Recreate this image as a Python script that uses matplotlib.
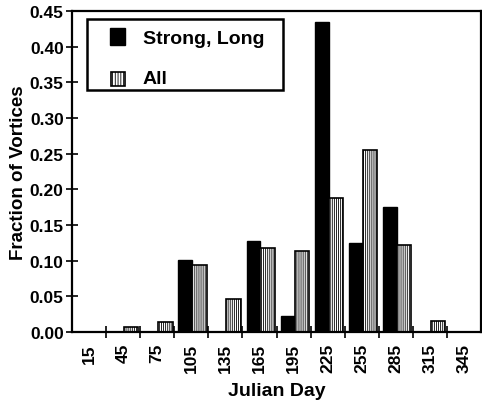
import matplotlib
matplotlib.use("Agg")
import matplotlib.pyplot as plt
import numpy as np
from matplotlib.patches import Rectangle

plt.rcParams['font.family'] = ['Liberation Sans', 'DejaVu Sans']
plt.rcParams['font.weight'] = 'bold'
plt.rcParams['hatch.linewidth'] = 0.6

days = [15, 45, 75, 105, 135, 165, 195, 225, 255, 285, 315, 345]
strong_long = [0, 0, 0, 0.101, 0, 0.127, 0.023, 0.435, 0.125, 0.175, 0, 0]
all_vortices = [0, 0.007, 0.014, 0.094, 0.046, 0.118, 0.114, 0.188, 0.255, 0.122, 0.016, 0]
yticks = [0.00, 0.05, 0.10, 0.15, 0.20, 0.25, 0.30, 0.35, 0.40, 0.45]
series_names = ["Strong, Long", "All"]

HATCH = '||||||||'

fig = plt.figure(figsize=(4.82, 4.02), dpi=100)
AX_W, AX_H = 409, 321
ax = fig.add_axes([72/482, 1 - 333/402, AX_W/482, AX_H/402])

x = np.arange(len(days))
for xi, v in zip(x, strong_long):
    if v > 0:
        ax.bar(xi - 0.38, v, width=0.41, align='edge', color='black',
               edgecolor='black', linewidth=1.0)
for xi, v in zip(x, all_vortices):
    if v > 0:
        ax.bar(xi + 0.03, v, width=0.42, align='edge', color='white',
               edgecolor='black', hatch=HATCH, linewidth=1.2)

ax.set_xlim(-0.5, len(days) - 0.5)
ax.set_ylim(0, 0.45)
ax.set_yticks(yticks)
ax.set_yticklabels([f"{t:.2f}" for t in yticks], fontsize=12.5, fontweight='bold')
ax.set_xticks(x)
ax.set_xticklabels([str(d) for d in days], rotation=90, fontsize=12.5, fontweight='bold')
ax.set_xticks(np.arange(0.5, len(days) - 0.5, 1.0), minor=True)
ax.tick_params(axis='x', which='major', length=0, pad=8)
ax.tick_params(axis='x', which='minor', direction='inout', length=8, width=1.2)
ax.tick_params(axis='y', which='major', direction='inout', length=8, width=1.2, pad=2)

for s in ax.spines.values():
    s.set_linewidth(1.6)

ax.set_xlabel("Julian Day", fontsize=14, fontweight='bold', labelpad=7)
ax.set_ylabel("Fraction of Vortices", fontsize=13.5, fontweight='bold', labelpad=2)

# Manual legend box (positions in axes pixel units -> fractions)
def fx(px):
    return (px - 72) / AX_W

def fy(py):
    return (333 - py) / AX_H

T = ax.transAxes
ax.add_patch(Rectangle((fx(87), fy(91)), fx(283) - fx(87), fy(20) - fy(91),
                       transform=T, facecolor='white', edgecolor='black',
                       linewidth=1.8, zorder=5, clip_on=False))
ax.add_patch(Rectangle((fx(110), fy(46)), fx(125) - fx(110), fy(29) - fy(46),
                       transform=T, facecolor='black', edgecolor='black',
                       linewidth=1.0, zorder=6, clip_on=False))
ax.add_patch(Rectangle((fx(111), fy(87)), fx(125) - fx(111), fy(73) - fy(87),
                       transform=T, facecolor='white', edgecolor='black',
                       hatch='||||||', linewidth=1.2, zorder=6, clip_on=False))
ax.text(fx(143), fy(39), series_names[0], transform=T, fontsize=14,
        fontweight='bold', va='center', ha='left', zorder=7)
ax.text(fx(143), fy(80), series_names[1], transform=T, fontsize=14,
        fontweight='bold', va='center', ha='left', zorder=7)

fig.savefig("out.png", dpi=100)
